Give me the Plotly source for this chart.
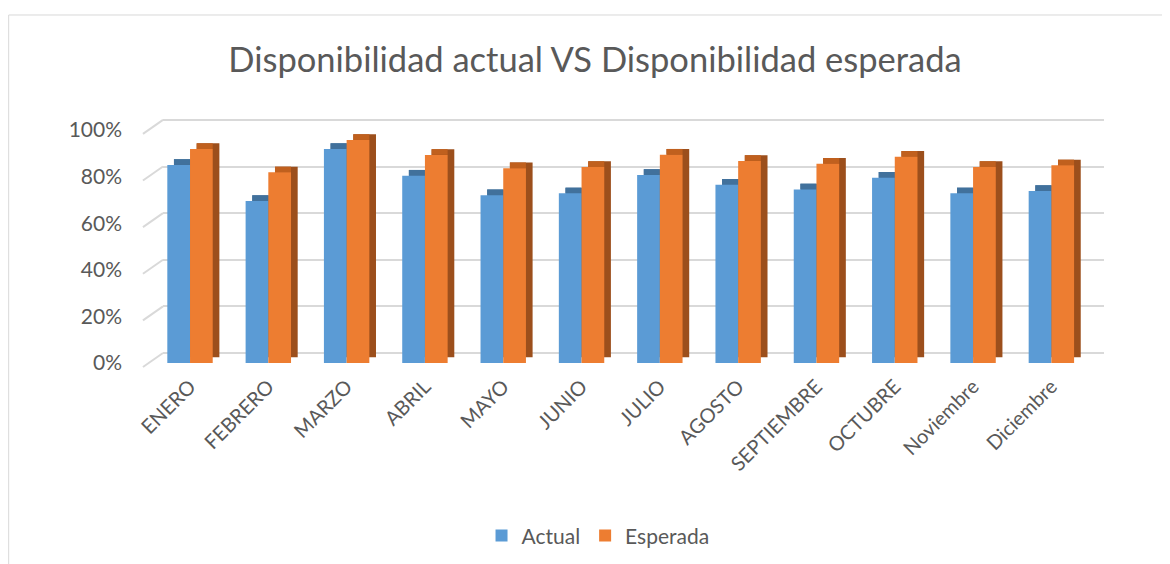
import plotly.graph_objects as go

months = ["ENERO", "FEBRERO", "MARZO", "ABRIL", "MAYO", "JUNIO", "JULIO",
          "AGOSTO", "SEPTIEMBRE", "OCTUBRE", "Noviembre", "Diciembre"]
actual = [0.85, 0.695, 0.918, 0.804, 0.72, 0.728, 0.807, 0.765, 0.745, 0.795, 0.728, 0.738]
esperada = [0.918, 0.818, 0.957, 0.893, 0.836, 0.841, 0.894, 0.867, 0.855, 0.885, 0.841, 0.848]
y_ticks = [0, 0.2, 0.4, 0.6, 0.8, 1.0]
y_labels = ["0%", "20%", "40%", "60%", "80%", "100%"]

BLUE = "#5B9BD5"
BLUE_TOP = "#41719C"
ORANGE = "#ED7D31"
ORANGE_SIDE = "#9C4F1C"
ORANGE_TOP = "#C0601E"
TXT = "#595959"
GRID = "#D9D9D9"
FONT = "Lato, 'Open Sans', sans-serif"

W = 0.29      # bar width (category units)
DX = 0.085    # depth shift, x
DY = 0.0245   # depth shift, y
WALL = 0.06   # side-wall drop of gridlines (y2 units)

fig = go.Figure()

def depth(values, off, side_color, top_color):
    fig.add_trace(go.Bar(x=months, y=values, base=[DY] * len(values), width=W,
                         offset=off + DX, marker=dict(color=side_color, line_width=0),
                         showlegend=False, hoverinfo="skip"))
    fig.add_trace(go.Bar(x=months, y=[DY] * len(values), base=values, width=W - DX,
                         offset=off + DX, marker=dict(color=top_color, line_width=0),
                         showlegend=False, hoverinfo="skip"))

depth(actual, -W, BLUE_TOP, BLUE_TOP)
depth(esperada, 0, ORANGE_SIDE, ORANGE_TOP)

fig.add_trace(go.Bar(x=months, y=actual, width=W, offset=-W, name="Actual",
                     marker=dict(color=BLUE, line_width=0)))
fig.add_trace(go.Bar(x=months, y=esperada, width=W, offset=0, name="Esperada",
                     marker=dict(color=ORANGE, line_width=0)))

fig.add_trace(go.Scatter(x=months, y=actual, yaxis="y2", mode="markers",
                         marker=dict(opacity=0), showlegend=False, hoverinfo="skip"))

shapes = [dict(type="line", xref="paper", yref="y2", x0=-0.0213, x1=0,
               y0=t - WALL, y1=t, line=dict(color=GRID, width=2), layer="below")
          for t in y_ticks]
shapes.append(dict(type="rect", xref="paper", yref="paper",
                   x0=-0.164, x1=1.0627, y0=-0.80, y1=1.376,
                   line=dict(color=GRID, width=1), fillcolor="rgba(0,0,0,0)",
                   layer="below"))

fig.update_layout(
    width=1170, height=564,
    margin=dict(l=155, r=74, t=104, b=202),
    paper_bgcolor="white", plot_bgcolor="rgba(0,0,0,0)",
    barmode="overlay",
    title=dict(text="Disponibilidad actual VS Disponibilidad esperada",
               x=587 / 1170, xanchor="center", y=1 - 52 / 564, yanchor="middle",
               font=dict(family=FONT, size=34.5, color=TXT)),
    font=dict(family=FONT, color=TXT),
    xaxis=dict(range=[-0.345, 11.672], showgrid=False, zeroline=False, showline=False,
               ticks="", tickangle=-45, tickfont=dict(size=20, color=TXT)),
    yaxis=dict(range=[-0.030, 1.077], tickvals=y_ticks, ticktext=y_labels,
               showgrid=False, zeroline=False, showline=False, ticks="",
               tickfont=dict(size=21, color=TXT), ticklabelstandoff=40),
    yaxis2=dict(range=[-0.073, 1.034], overlaying="y", side="right",
                tickvals=y_ticks, showticklabels=False, showgrid=True,
                gridcolor=GRID, gridwidth=2, zeroline=False, showline=False,
                ticks="", layer="below traces"),
    legend=dict(orientation="h", x=0.4623, xanchor="center", y=-0.643, yanchor="middle",
                font=dict(size=21, color=TXT), itemwidth=30, traceorder="normal",
                bgcolor="rgba(0,0,0,0)"),
    shapes=shapes,
)

fig.write_html("out.html")
